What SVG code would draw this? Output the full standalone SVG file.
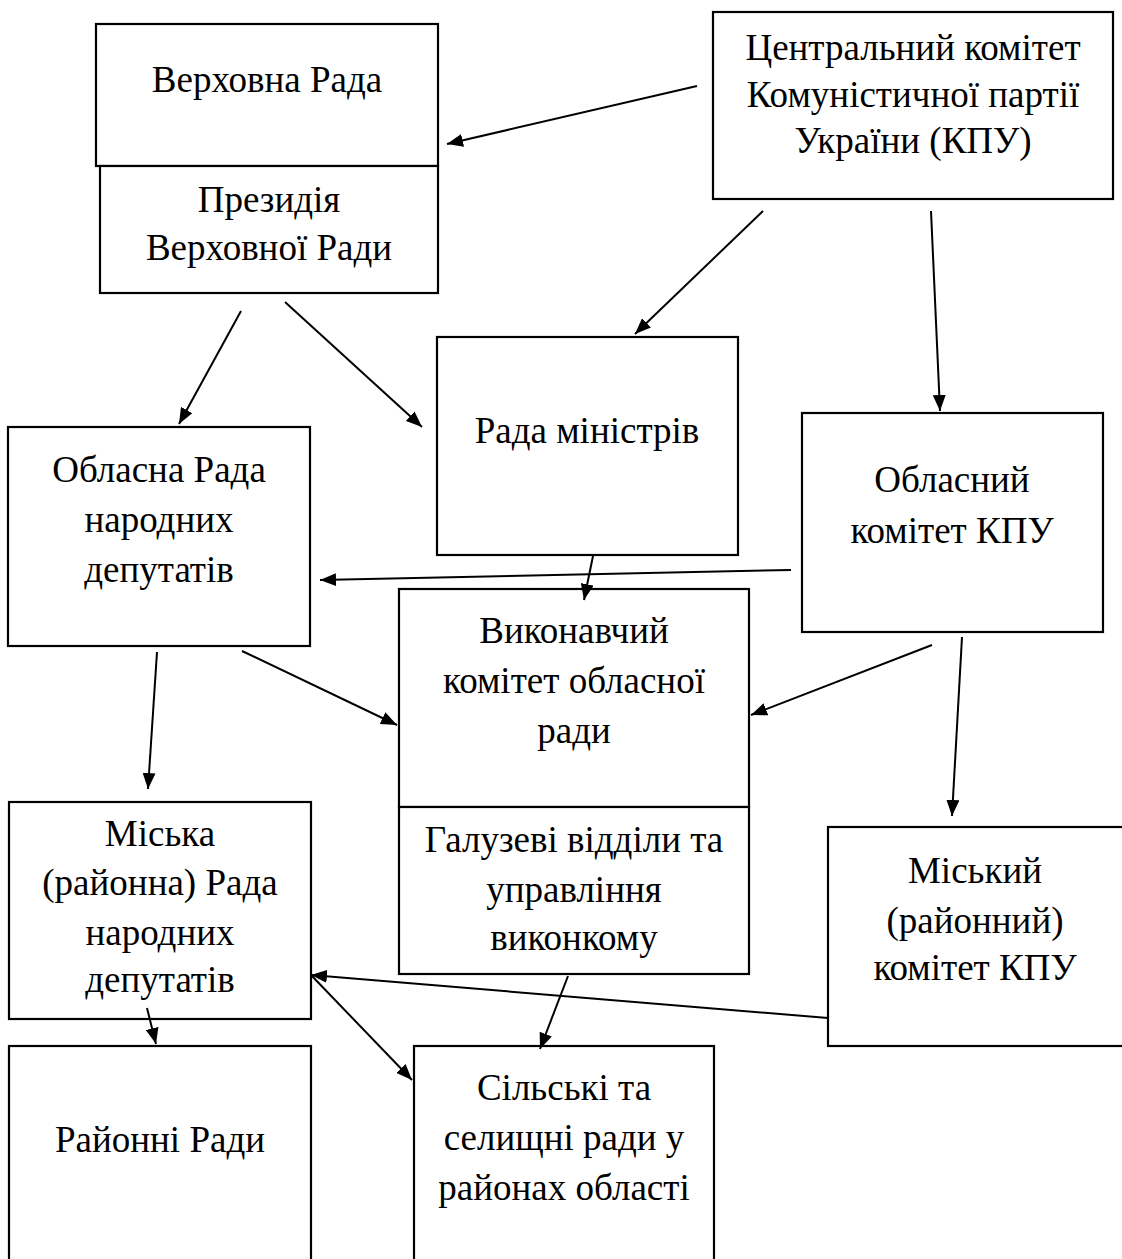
<svg xmlns="http://www.w3.org/2000/svg" width="1122" height="1259" viewBox="0 0 1122 1259">
<style>
.box{fill:#fff;stroke:#000;stroke-width:2.2}
.t{font-family:"Liberation Serif","Times New Roman",serif;font-size:37px;fill:#000;text-anchor:middle}
.c{stroke:#000;stroke-width:2;fill:none;marker-end:url(#ah)}
</style>
<defs>
<marker id="ah" markerUnits="userSpaceOnUse" markerWidth="17" markerHeight="13" refX="16" refY="6.5" orient="auto"><path d="M0,0 L16,6.5 L0,13 z" fill="#000"/></marker>
</defs>
<rect width="1122" height="1259" fill="#fff"/>
<g id="verkhovna-rada">
<rect class="box" x="96" y="24" width="342" height="142"/>
<text class="t" x="267" y="92">Верховна Рада</text>
</g>
<g id="prezydiia">
<rect class="box" x="100" y="166" width="338" height="127"/>
<text class="t" x="269" y="212">Президія</text>
<text class="t" x="269" y="260">Верховної Ради</text>
</g>
<g id="tsk-kpu">
<rect class="box" x="713" y="12" width="400" height="187"/>
<text class="t" x="913" y="60">Центральний комітет</text>
<text class="t" x="913" y="107">Комуністичної партії</text>
<text class="t" x="913" y="153">України (КПУ)</text>
</g>
<g id="rada-ministriv">
<rect class="box" x="437" y="337" width="301" height="218"/>
<text class="t" x="587" y="443">Рада міністрів</text>
</g>
<g id="oblasna-rada">
<rect class="box" x="8" y="427" width="302" height="219"/>
<text class="t" x="159" y="482">Обласна Рада</text>
<text class="t" x="159" y="532">народних</text>
<text class="t" x="159" y="582">депутатів</text>
</g>
<g id="oblasnyi-komitet">
<rect class="box" x="802" y="413" width="301" height="219"/>
<text class="t" x="952" y="492">Обласний</text>
<text class="t" x="952" y="543">комітет КПУ</text>
</g>
<g id="vykonkom">
<rect class="box" x="399" y="589" width="350" height="218"/>
<text class="t" x="574" y="643">Виконавчий</text>
<text class="t" x="574" y="693">комітет обласної</text>
<text class="t" x="574" y="743">ради</text>
</g>
<g id="haluzevi-viddily">
<rect class="box" x="399" y="807" width="350" height="167"/>
<text class="t" x="574" y="852">Галузеві відділи та</text>
<text class="t" x="574" y="902">управління</text>
<text class="t" x="574" y="950">виконкому</text>
</g>
<g id="miska-rada">
<rect class="box" x="9" y="802" width="302" height="217"/>
<text class="t" x="160" y="846">Міська</text>
<text class="t" x="160" y="895">(районна) Рада</text>
<text class="t" x="160" y="945">народних</text>
<text class="t" x="160" y="992">депутатів</text>
</g>
<g id="miskyi-komitet">
<rect class="box" x="828" y="827" width="310" height="219"/>
<text class="t" x="975" y="883">Міський</text>
<text class="t" x="975" y="933">(районний)</text>
<text class="t" x="975" y="980">комітет КПУ</text>
</g>
<g id="raionni-rady">
<rect class="box" x="9" y="1046" width="302" height="230"/>
<text class="t" x="160" y="1152">Районні Ради</text>
</g>
<g id="silski-rady">
<rect class="box" x="414" y="1046" width="300" height="230"/>
<text class="t" x="564" y="1100">Сільські та</text>
<text class="t" x="564" y="1150">селищні ради у</text>
<text class="t" x="564" y="1200">районах області</text>
</g>
<g id="connectors">
<line class="c" x1="697" y1="86" x2="447" y2="144"/>
<line class="c" x1="763" y1="211" x2="635" y2="334"/>
<line class="c" x1="931" y1="211" x2="940" y2="411"/>
<line class="c" x1="241" y1="311" x2="179" y2="424"/>
<line class="c" x1="285" y1="302" x2="422" y2="427"/>
<line class="c" x1="791" y1="570" x2="320" y2="580"/>
<line class="c" x1="593" y1="556" x2="584" y2="600"/>
<line class="c" x1="242" y1="651" x2="397" y2="725"/>
<line class="c" x1="932" y1="645" x2="751" y2="715"/>
<line class="c" x1="157" y1="652" x2="148" y2="789"/>
<line class="c" x1="962" y1="637" x2="952" y2="816"/>
<line class="c" x1="828" y1="1018" x2="311" y2="975"/>
<line class="c" x1="311" y1="975" x2="412" y2="1080"/>
<line class="c" x1="147" y1="1008" x2="156" y2="1044"/>
<line class="c" x1="568" y1="976" x2="540" y2="1049"/>
</g>
</svg>
